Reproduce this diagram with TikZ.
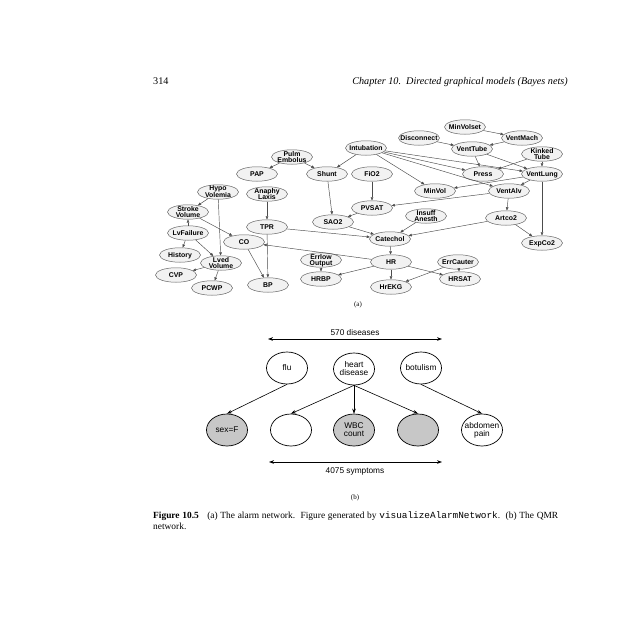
\documentclass[tikz,border=0pt]{standalone}
\usepackage{fontspec}
\setmainfont{Liberation Serif}
\setsansfont{Liberation Sans}
\setmonofont{Liberation Mono}
\usetikzlibrary{shapes.geometric,arrows.meta}
\newcommand\ctext[1]{\makebox[0pt]{\smash{\raisebox{-2.7pt}{\begin{tabular}{@{}c@{}}#1\end{tabular}}}}}
\begin{document}
\begin{tikzpicture}[x=1pt,y=-1pt,
 anode/.style={ellipse, draw=black!60, fill=black!5, line width=0.5pt, minimum width=41pt, minimum height=14.5pt, inner sep=0pt, font=\sffamily\bfseries\fontsize{6.9}{6.3}\selectfont},
 aedge/.style={draw=black!70, line width=0.45pt, -{Triangle[length=3.2pt,width=2.6pt]}},
 qnode/.style={ellipse, draw=black, line width=0.7pt, minimum width=41pt, minimum height=32pt, inner sep=0pt, fill=white, font=\sffamily\fontsize{8.3}{8.6}\selectfont},
 qgray/.style={qnode, fill=black!22},
 qedge/.style={draw=black, line width=0.6pt, -{Stealth[length=5pt,width=3.6pt]}},
 rangearrow/.style={draw=black, line width=0.6pt, {Stealth[length=5pt,width=3.6pt]}-{Stealth[length=5pt,width=3.6pt]}},
 hdr/.style={inner sep=0pt, font=\fontsize{10.2}{12}\selectfont},
 sublab/.style={inner sep=0pt, font=\fontsize{7}{8}\selectfont},
 rlab/.style={inner sep=0pt, font=\sffamily\fontsize{8.3}{9}\selectfont},
 captext/.style={inner sep=0pt, font=\fontsize{9.4}{11}\selectfont},
]
\useasboundingbox[fill=white] (0,0) rectangle (640,640);
% header
\node[hdr, anchor=base west] (pg) at (153,84) {314};
\node[hdr, anchor=base east] (chap) at (568,84) {\itshape Chapter 10.\ \ Directed graphical models (Bayes nets)};
% alarm network nodes
\node[anode] (minvolset) at (465,127) {\ctext{MinVolset}};
\node[anode] (ventmach) at (522,138) {\ctext{VentMach}};
\node[anode] (disconnect) at (419,138) {\ctext{Disconnect}};
\node[anode] (intub) at (366,148) {\ctext{Intubation}};
\node[anode] (venttube) at (472,149) {\ctext{VentTube}};
\node[anode] (kinked) at (542,154) {\ctext{Kinked\\Tube}};
\node[anode] (pulm) at (292,157) {\ctext{Pulm\\Embolus}};
\node[anode] (pap) at (257,174) {\ctext{PAP}};
\node[anode] (shunt) at (327,174) {\ctext{Shunt}};
\node[anode] (fio2) at (372,174) {\ctext{FiO2}};
\node[anode] (press) at (483,174) {\ctext{Press}};
\node[anode] (ventlung) at (542,174) {\ctext{VentLung}};
\node[anode] (minvol) at (435,191) {\ctext{MinVol}};
\node[anode] (ventalv) at (509,191) {\ctext{VentAlv}};
\node[anode] (hypo) at (218,192) {\ctext{Hypo\\Volemia}};
\node[anode] (anaphy) at (267,194) {\ctext{Anaphy\\Laxis}};
\node[anode] (pvsat) at (372,208) {\ctext{PVSAT}};
\node[anode] (stroke) at (188,212) {\ctext{Stroke\\Volume}};
\node[anode] (insuff) at (426,216) {\ctext{Insuff\\Anesth}};
\node[anode] (artco2) at (506,218) {\ctext{Artco2}};
\node[anode] (sao2) at (333,222) {\ctext{SAO2}};
\node[anode] (tpr) at (267,227) {\ctext{TPR}};
\node[anode] (lvfail) at (188,233) {\ctext{LvFailure}};
\node[anode] (catechol) at (390,239) {\ctext{Catechol}};
\node[anode] (co) at (244,242) {\ctext{CO}};
\node[anode] (expco2) at (542,243) {\ctext{ExpCo2}};
\node[anode] (history) at (180,255) {\ctext{History}};
\node[anode] (errlow) at (321,260) {\ctext{Errlow\\Output}};
\node[anode] (hr) at (391,262) {\ctext{HR}};
\node[anode] (errcauter) at (458,262) {\ctext{ErrCauter}};
\node[anode] (lved) at (221,263) {\ctext{Lved\\Volume}};
\node[anode] (cvp) at (176,275) {\ctext{CVP}};
\node[anode] (hrbp) at (321,279) {\ctext{HRBP}};
\node[anode] (hrsat) at (460,279) {\ctext{HRSAT}};
\node[anode] (bp) at (268,285) {\ctext{BP}};
\node[anode] (hrekg) at (391,287) {\ctext{HrEKG}};
\node[anode] (pcwp) at (212,288) {\ctext{PCWP}};
% alarm network edges
\draw[aedge] (minvolset) -- (ventmach);
\draw[aedge] (ventmach) -- (venttube);
\draw[aedge] (disconnect) -- (venttube);
\draw[aedge] (venttube) -- (press);
\draw[aedge] (venttube) -- (ventlung);
\draw[aedge] (kinked) -- (press);
\draw[aedge] (kinked) -- (ventlung);
\draw[aedge] (intub) -- (press);
\draw[aedge] (intub) -- (ventlung);
\draw[aedge] (intub) -- (minvol);
\draw[aedge] (intub) -- (ventalv);
\draw[aedge] (intub) -- (shunt);
\draw[aedge] (pulm) -- (pap);
\draw[aedge] (pulm) -- (shunt);
\draw[aedge] (ventlung) -- (minvol);
\draw[aedge] (ventlung) -- (ventalv);
\draw[aedge] (ventlung) -- (expco2);
\draw[aedge] (ventalv) -- (pvsat);
\draw[aedge] (ventalv) -- (artco2);
\draw[aedge] (artco2) -- (expco2);
\draw[aedge] (artco2) -- (catechol);
\draw[aedge] (fio2) -- (pvsat);
\draw[aedge] (pvsat) -- (sao2);
\draw[aedge] (shunt) -- (sao2);
\draw[aedge] (sao2) -- (catechol);
\draw[aedge] (insuff) -- (catechol);
\draw[aedge] (tpr) -- (catechol);
\draw[aedge] (catechol) -- (hr);
\draw[aedge] (hr) -- (co);
\draw[aedge] (hr) -- (hrbp);
\draw[aedge] (hr) -- (hrekg);
\draw[aedge] (hr) -- (hrsat);
\draw[aedge] (errlow) -- (hrbp);
\draw[aedge] (errcauter) -- (hrekg);
\draw[aedge] (errcauter) -- (hrsat);
\draw[aedge] (anaphy) -- (tpr);
\draw[aedge] (tpr) -- (bp);
\draw[aedge] (co) -- (bp);
\draw[aedge] (hypo) -- (stroke);
\draw[aedge] (hypo) -- (lved);
\draw[aedge] (lvfail) -- (stroke);
\draw[aedge] (lvfail) -- (history);
\draw[aedge] (lvfail) -- (lved);
\draw[aedge] (stroke) -- (co);
\draw[aedge] (lved) -- (cvp);
\draw[aedge] (lved) -- (pcwp);
\node[sublab] (suba) at (358,305) {(a)};
% QMR network
\coordinate (dl) at (268,339);
\coordinate (dr) at (442,339);
\draw[rangearrow] (dl) -- (dr);
\node[rlab] (dis) at (355,333) {570 diseases};
\node[qnode] (flu) at (287,368) {\ctext{flu}};
\node[qnode] (heart) at (354,369) {\ctext{heart\\disease}};
\node[qnode] (botulism) at (421,368) {\ctext{botulism}};
\node[qgray] (sexf) at (227,430) {\ctext{sex=F}};
\node[qnode] (s2) at (291,430) {};
\node[qgray] (wbc) at (354,430) {\ctext{WBC\\count}};
\node[qgray] (s4) at (418,430) {};
\node[qnode] (abdomen) at (482,430) {\ctext{abdomen\\pain}};
\draw[qedge] (flu.south) -- (sexf.north);
\draw[qedge] (heart.south) -- (s2.north);
\draw[qedge] (heart.south) -- (wbc.north);
\draw[qedge] (heart.south) -- (s4.north);
\draw[qedge] (botulism.south) -- (abdomen.north);
\coordinate (sl) at (269,462);
\coordinate (sr) at (442,462);
\draw[rangearrow] (sl) -- (sr);
\node[rlab] (sym) at (355,471) {4075 symptoms};
\node[sublab] (subb) at (355,498) {(b)};
% caption
\node[captext, anchor=base west] (cap1) at (153,518) {\makebox[405pt][s]{\textbf{Figure 10.5}\hspace{0.6em} (a) The alarm network.\ \ Figure generated by \texttt{visualizeAlarmNetwork}.\ \ (b) The QMR}};
\node[captext, anchor=base west] (cap2) at (153,529) {network.};
\end{tikzpicture}
\end{document}
